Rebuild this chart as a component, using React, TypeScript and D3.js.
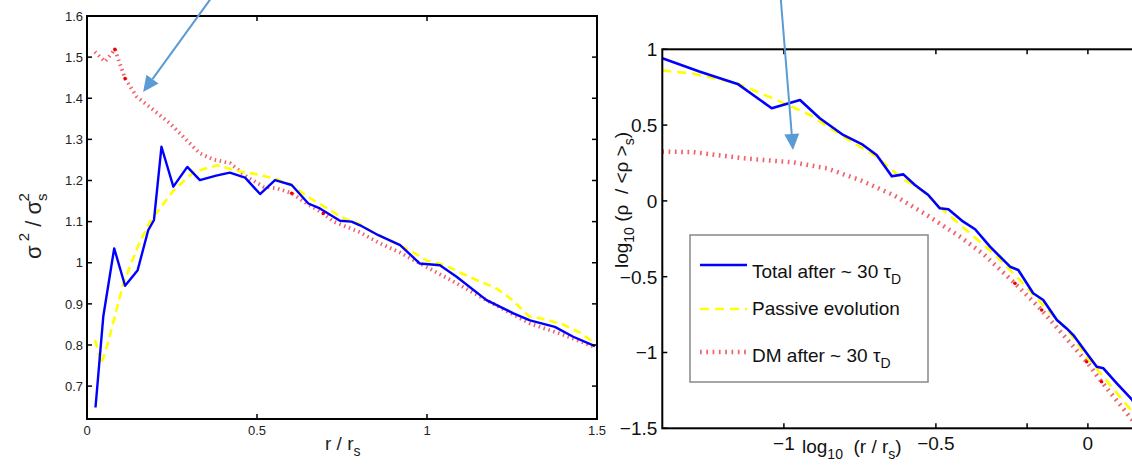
import React from 'react';
import * as d3 from 'd3';

// ---------- Left panel: sigma^2 / sigma_s^2 vs r / r_s ----------
const leftTotalR = [0.025, 0.048, 0.08, 0.112, 0.149, 0.18, 0.197, 0.219, 0.254, 0.295, 0.332, 0.38, 0.42, 0.465, 0.509, 0.553, 0.602, 0.651, 0.685, 0.744, 0.778, 0.803, 0.857, 0.921, 0.979, 1.038, 1.087, 1.175, 1.254, 1.303, 1.376, 1.43, 1.494];
const leftTotal = [0.648, 0.87, 1.035, 0.944, 0.982, 1.079, 1.104, 1.282, 1.185, 1.233, 1.201, 1.212, 1.219, 1.207, 1.167, 1.201, 1.189, 1.144, 1.132, 1.102, 1.1, 1.091, 1.067, 1.043, 0.998, 0.994, 0.966, 0.909, 0.877, 0.86, 0.844, 0.82, 0.797];

const leftPassiveR = [0.024, 0.042, 0.06, 0.107, 0.15, 0.185, 0.254, 0.313, 0.381, 0.45, 0.5, 0.55, 0.6, 0.65, 0.7, 0.75, 0.8, 0.85, 0.9, 0.95, 1.0, 1.05, 1.1, 1.156, 1.2, 1.25, 1.3, 1.35, 1.4, 1.45, 1.5];
const leftPassive = [0.812, 0.755, 0.8, 0.95, 1.04, 1.1, 1.175, 1.22, 1.237, 1.222, 1.215, 1.205, 1.19, 1.16, 1.135, 1.11, 1.095, 1.07, 1.05, 1.03, 1.005, 0.995, 0.975, 0.954, 0.94, 0.91, 0.87, 0.862, 0.85, 0.83, 0.8];

const leftDMR = [0.023, 0.053, 0.082, 0.112, 0.146, 0.196, 0.244, 0.293, 0.332, 0.372, 0.421, 0.47, 0.519, 0.558, 0.602, 0.646, 0.695, 0.725, 0.8, 0.862, 0.92, 0.98, 1.087, 1.175, 1.303, 1.4, 1.494];
const leftDM = [1.513, 1.489, 1.519, 1.448, 1.404, 1.371, 1.339, 1.298, 1.266, 1.251, 1.242, 1.209, 1.185, 1.181, 1.169, 1.144, 1.12, 1.1, 1.075, 1.047, 1.025, 0.998, 0.95, 0.909, 0.852, 0.825, 0.795];
const leftDMDotIdx = [2, 3, 14, 16];

const leftYTicks = [0.7, 0.8, 0.9, 1.0, 1.1, 1.2, 1.3, 1.4, 1.5, 1.6];
const leftYTickLabels = ['0.7', '0.8', '0.9', '1', '1.1', '1.2', '1.3', '1.4', '1.5', '1.6'];
const leftXTicks = [0, 0.5, 1, 1.5];
const leftXTickLabels = ['0', '0.5', '1', '1.5'];

// ---------- Right panel: log10(rho/<rho>_s) vs log10(r/r_s) ----------
const rightTotalX = [-1.4, -1.276, -1.15, -1.04, -0.947, -0.882, -0.805, -0.744, -0.695, -0.645, -0.607, -0.569, -0.525, -0.487, -0.459, -0.41, -0.371, -0.322, -0.256, -0.229, -0.18, -0.147, -0.102, -0.07, -0.048, -0.004, 0.029, 0.051, 0.095, 0.146, 0.18];
const rightTotal = [0.941, 0.852, 0.769, 0.611, 0.666, 0.545, 0.435, 0.375, 0.303, 0.162, 0.175, 0.105, 0.039, -0.049, -0.055, -0.137, -0.187, -0.302, -0.434, -0.456, -0.609, -0.654, -0.786, -0.841, -0.885, -1.005, -1.094, -1.104, -1.203, -1.313, -1.42];

const rightPassiveX = [-1.4, -1.3, -1.155, -1.024, -0.914, -0.805, -0.695, -0.619, -0.541, -0.476, -0.388, -0.311, -0.234, -0.147, -0.059, -0.004, 0.051, 0.146, 0.18];
const rightPassive = [0.86, 0.84, 0.776, 0.666, 0.567, 0.424, 0.292, 0.16, 0.061, -0.06, -0.214, -0.346, -0.5, -0.688, -0.873, -1.028, -1.16, -1.39, -1.47];

const rightDMX = [-1.4, -1.298, -1.134, -0.969, -0.859, -0.75, -0.64, -0.53, -0.421, -0.344, -0.24, -0.152, -0.004, 0.045, 0.146, 0.18];
const rightDM = [0.325, 0.322, 0.281, 0.254, 0.215, 0.138, 0.039, -0.093, -0.236, -0.35, -0.544, -0.72, -1.061, -1.193, -1.445, -1.53];
const rightDMDotIdx = [10, 11, 12, 13];

const rightYTicks = [-1.5, -1, -0.5, 0, 0.5, 1];
const rightYTickLabels = ['\u22121.5', '\u22121', '\u22120.5', '0', '0.5', '1'];
const rightXTicks = [-1, -0.5, -0.2, 0];
const rightXTickLabels = ['\u22121', '\u22120.5', '', '0'];

const legendLabels = ['Total after ~ 30 \u03c4', 'Passive evolution', 'DM after ~ 30 \u03c4'];

// Annotation arrows (in each panel's data coordinates): [x0, y0, x1(tip), y1(tip)]
const leftArrow = [0.362, 1.64, 0.165, 1.415];
const rightArrow = [-1.01, 1.325, -0.97, 0.336];

const FONT = "'Liberation Sans', Arial, Helvetica, sans-serif";
const BLUE = '#0000ff';
const YELLOW = '#ffff00';
const RED = '#f2606a';
const ARROW = '#5b9bd5';

function Arrow({ x0, y0, x1, y1 }: { x0: number; y0: number; x1: number; y1: number }) {
  const ang = Math.atan2(y1 - y0, x1 - x0);
  const len = 16;
  const hw = 7.5;
  const bx = x1 - len * Math.cos(ang);
  const by = y1 - len * Math.sin(ang);
  const px = -Math.sin(ang);
  const py = Math.cos(ang);
  const pts = [
    [x1, y1],
    [bx + hw * px, by + hw * py],
    [bx - hw * px, by - hw * py],
  ];
  return (
    <g>
      <line x1={x0} y1={y0} x2={bx} y2={by} stroke={ARROW} strokeWidth={2} />
      <polygon points={pts.map((p) => p.join(',')).join(' ')} fill={ARROW} />
    </g>
  );
}

export default function App() {
  const lx = d3.scaleLinear().domain([0, 1.5]).range([87, 597]);
  const ly = d3.scaleLinear().domain([0.62, 1.6]).range([419, 16]);
  const rx = d3.scaleLinear().domain([-1.4, 0.2]).range([662.3, 662.3 + 1.6 * 304]);
  const ry = d3.scaleLinear().domain([-1.5, 1]).range([428.3, 49.3]);

  const mkLine = (xs: number[], ys: number[], sx: any, sy: any) =>
    d3.line<number>().x((_, i) => sx(xs[i])).y((d) => sy(d))(ys) || '';

  const lL = { x0: lx(0), x1: lx(1.5), y0: ly(1.6), y1: ly(0.62) };
  const rL = { x0: rx(-1.4), x1: rx(0.2), y0: ry(1), y1: ry(-1.5) };
  const tick = 5;

  return (
    <svg width={1132} height={466} style={{ position: 'absolute', left: 0, top: 0, background: '#fff' }} fontFamily={FONT}>
      <defs>
        <clipPath id="clipL">
          <rect x={lL.x0} y={lL.y0} width={lL.x1 - lL.x0} height={lL.y1 - lL.y0} />
        </clipPath>
        <clipPath id="clipR">
          <rect x={rL.x0} y={rL.y0} width={rL.x1 - rL.x0} height={rL.y1 - rL.y0} />
        </clipPath>
      </defs>
      <rect x={0} y={0} width={1132} height={466} fill="#fff" />

      {/* ================= LEFT PANEL ================= */}
      <g clipPath="url(#clipL)">
        <path d={mkLine(leftDMR, leftDM, lx, ly)} fill="none" stroke={RED} strokeWidth={3.8} strokeDasharray="1.5,3.6" />
        {leftDMDotIdx.map((i) => (
          <circle key={i} cx={lx(leftDMR[i])} cy={ly(leftDM[i])} r={1.8} fill="#ee0000" />
        ))}
        <path d={mkLine(leftPassiveR, leftPassive, lx, ly)} fill="none" stroke={YELLOW} strokeWidth={2.6} strokeDasharray="8,5" />
        <path d={mkLine(leftTotalR, leftTotal, lx, ly)} fill="none" stroke={BLUE} strokeWidth={2.4} strokeLinejoin="round" />
      </g>
      {/* ticks */}
      {leftYTicks.map((v) => (
        <g key={'ly' + v}>
          <line x1={lL.x0} x2={lL.x0 + tick} y1={ly(v)} y2={ly(v)} stroke="#000" strokeWidth={1.5} />
          <line x1={lL.x1} x2={lL.x1 - tick} y1={ly(v)} y2={ly(v)} stroke="#000" strokeWidth={1.5} />
        </g>
      ))}
      {leftXTicks.map((v) => (
        <g key={'lx' + v}>
          <line x1={lx(v)} x2={lx(v)} y1={lL.y1} y2={lL.y1 - tick} stroke="#000" strokeWidth={1.5} />
          <line x1={lx(v)} x2={lx(v)} y1={lL.y0} y2={lL.y0 + tick} stroke="#000" strokeWidth={1.5} />
        </g>
      ))}
      <rect x={lL.x0} y={lL.y0} width={lL.x1 - lL.x0} height={lL.y1 - lL.y0} fill="none" stroke="#000" strokeWidth={2} />
      {leftYTicks.map((v, i) => (
        <text key={'lyt' + v} x={lL.x0 - 4} y={ly(v)} dy="0.36em" textAnchor="end" fontSize={13} fill="#222">
          {leftYTickLabels[i]}
        </text>
      ))}
      {leftXTicks.map((v, i) => (
        <text key={'lxt' + v} x={lx(v)} y={435} textAnchor="middle" fontSize={13} fill="#222">
          {leftXTickLabels[i]}
        </text>
      ))}
      <text x={325} y={450} fontSize={19} fill="#222" style={{ whiteSpace: 'pre' }}>
        r / r<tspan dy={6} fontSize={14}>s</tspan>
      </text>
      <text transform="translate(41,226) rotate(-90)" textAnchor="middle" fontSize={22} fill="#222" style={{ whiteSpace: 'pre' }}>
        σ<tspan dy={-12} fontSize={15}> 2</tspan>
        <tspan dy={12}> / σ</tspan>
        <tspan dy={6} fontSize={15}>s</tspan>
        <tspan dx={-8} dy={-18} fontSize={15}>2</tspan>
      </text>

      {/* ================= RIGHT PANEL ================= */}
      <g clipPath="url(#clipR)">
        <path d={mkLine(rightDMX, rightDM, rx, ry)} fill="none" stroke={RED} strokeWidth={4.5} strokeDasharray="1.7,4.6" />
        {rightDMDotIdx.map((i) => (
          <circle key={i} cx={rx(rightDMX[i])} cy={ry(rightDM[i])} r={1.8} fill="#ee0000" />
        ))}
        <path d={mkLine(rightPassiveX, rightPassive, rx, ry)} fill="none" stroke={YELLOW} strokeWidth={2.6} strokeDasharray="9,6" />
        <path d={mkLine(rightTotalX, rightTotal, rx, ry)} fill="none" stroke={BLUE} strokeWidth={2.6} strokeLinejoin="round" />
      </g>
      {rightYTicks.map((v) => (
        <line key={'ry' + v} x1={rL.x0} x2={rL.x0 + tick} y1={ry(v)} y2={ry(v)} stroke="#000" strokeWidth={1.5} />
      ))}
      {rightXTicks.map((v) => (
        <g key={'rx' + v}>
          <line x1={rx(v)} x2={rx(v)} y1={rL.y1} y2={rL.y1 - tick} stroke="#000" strokeWidth={1.5} />
          <line x1={rx(v)} x2={rx(v)} y1={rL.y0} y2={rL.y0 + tick} stroke="#000" strokeWidth={1.5} />
        </g>
      ))}
      <rect x={rL.x0} y={rL.y0} width={rL.x1 - rL.x0} height={rL.y1 - rL.y0} fill="none" stroke="#000" strokeWidth={2} />
      {rightYTicks.map((v, i) => (
        <text key={'ryt' + v} x={rL.x0 - 5} y={ry(v)} dy="0.36em" textAnchor="end" fontSize={19} fill="#111">
          {rightYTickLabels[i]}
        </text>
      ))}
      {rightXTicks.map((v, i) => (
        <text key={'rxt' + v} x={rx(v)} y={450} textAnchor="middle" fontSize={19} fill="#111">
          {rightXTickLabels[i]}
        </text>
      ))}
      <text x={802} y={453} fontSize={19} fill="#111" style={{ whiteSpace: 'pre' }}>
        log<tspan dy={6} fontSize={14}>10</tspan>
        <tspan dy={-6}>{'  (r / r'}</tspan>
        <tspan dy={6} fontSize={14}>s</tspan>
        <tspan dy={-6}>)</tspan>
      </text>
      <text transform="translate(628,200) rotate(-90)" textAnchor="middle" fontSize={19} fill="#111" style={{ whiteSpace: 'pre' }}>
        log<tspan dy={6} fontSize={14}>10</tspan>
        <tspan dy={-6}>{' (ρ  / <ρ >'}</tspan>
        <tspan dy={6} fontSize={14}>s</tspan>
        <tspan dy={-6}>)</tspan>
      </text>

      {/* legend */}
      <rect x={690} y={235} width={238} height={147} fill="#fff" stroke="#888" strokeWidth={1.5} />
      <line x1={700} x2={747} y1={265} y2={265} stroke={BLUE} strokeWidth={2.6} />
      <line x1={700} x2={747} y1={309} y2={309} stroke={YELLOW} strokeWidth={2.6} strokeDasharray="9,6" />
      <line x1={700} x2={746} y1={352} y2={352} stroke={RED} strokeWidth={4.5} strokeDasharray="1.7,4.6" />
      <text x={752} y={278} fontSize={19} fill="#111">
        {legendLabels[0]}<tspan dy={6} fontSize={14}>D</tspan>
      </text>
      <text x={752} y={315} fontSize={19} fill="#111">{legendLabels[1]}</text>
      <text x={752} y={362} fontSize={19} fill="#111">
        {legendLabels[2]}<tspan dy={6} fontSize={14}>D</tspan>
      </text>

      {/* annotation arrows */}
      <Arrow x0={lx(leftArrow[0])} y0={ly(leftArrow[1])} x1={lx(leftArrow[2])} y1={ly(leftArrow[3])} />
      <Arrow x0={rx(rightArrow[0])} y0={ry(rightArrow[1])} x1={rx(rightArrow[2])} y1={ry(rightArrow[3])} />
    </svg>
  );
}
